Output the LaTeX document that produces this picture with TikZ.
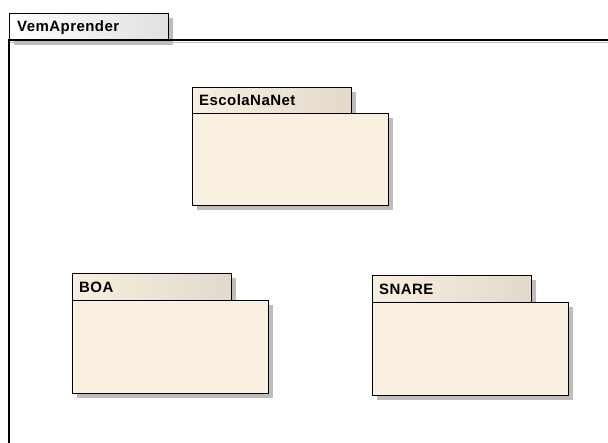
\documentclass[tikz,border=0pt]{standalone}
\usepackage{fontspec}
\newfontfamily\umlfont{Liberation Sans}[LetterSpace=3]
\usetikzlibrary{shadows}
\definecolor{pkgbody}{HTML}{FAF0E2}
\definecolor{pkgtabL}{HTML}{F9EFE0}
\definecolor{pkgtabR}{HTML}{E2D9CC}
\definecolor{shadowgray}{HTML}{BDBDBD}
\tikzset{
  shadowed/.style={drop shadow={shadow xshift=4pt, shadow yshift=-4pt, fill=shadowgray, opacity=1}},
  pkgtab/.style={draw=black, line width=1.3pt, shadowed, left color=pkgtabL, right color=pkgtabR, anchor=north west, inner sep=0pt},
  pkgbody/.style={draw=black, line width=1.3pt, shadowed, fill=pkgbody, anchor=north west, inner sep=0pt},
  frametab/.style={draw=black, line width=1.3pt, shadowed, left color=white, right color=black!12, anchor=north west, inner sep=0pt},
  pkglabel/.style={anchor=base west, inner sep=0pt, font=\umlfont\bfseries\fontsize{15}{18}\selectfont}
}
\begin{document}
\begin{tikzpicture}[x=1pt,y=-1pt]
\useasboundingbox (0,0) rectangle (608,443);
% outer frame
\node[frametab, minimum width=159pt, minimum height=27pt] (ftab) at (9,13) {};
\node[pkglabel] (flabel) at (17,32) {VemAprender};
\coordinate (fl) at (9,40);
\coordinate (fr) at (612,40);
\coordinate (fb) at (9,446);
\draw[shadowgray, line width=1.5pt] ([yshift=-2.5pt]fl) -- ([yshift=-2.5pt]fr);
\draw[black, line width=1.3pt] (fr) -- (fl) -- (fb);
% EscolaNaNet
\node[pkgtab, minimum width=159pt, minimum height=26pt] (etab) at (192,87) {};
\node[pkgbody, minimum width=196pt, minimum height=92pt] (ebody) at (192,113) {};
\node[pkglabel] (elabel) at (199,106) {EscolaNaNet};
% BOA
\node[pkgtab, minimum width=159pt, minimum height=27pt] (btab) at (72,273) {};
\node[pkgbody, minimum width=196pt, minimum height=93pt] (bbody) at (72,300) {};
\node[pkglabel] (blabel) at (79,293) {BOA};
% SNARE
\node[pkgtab, minimum width=159pt, minimum height=27pt] (stab) at (372,275) {};
\node[pkgbody, minimum width=196pt, minimum height=93pt] (sbody) at (372,302) {};
\node[pkglabel] (slabel) at (379,295) {SNARE};
\end{tikzpicture}
\end{document}
